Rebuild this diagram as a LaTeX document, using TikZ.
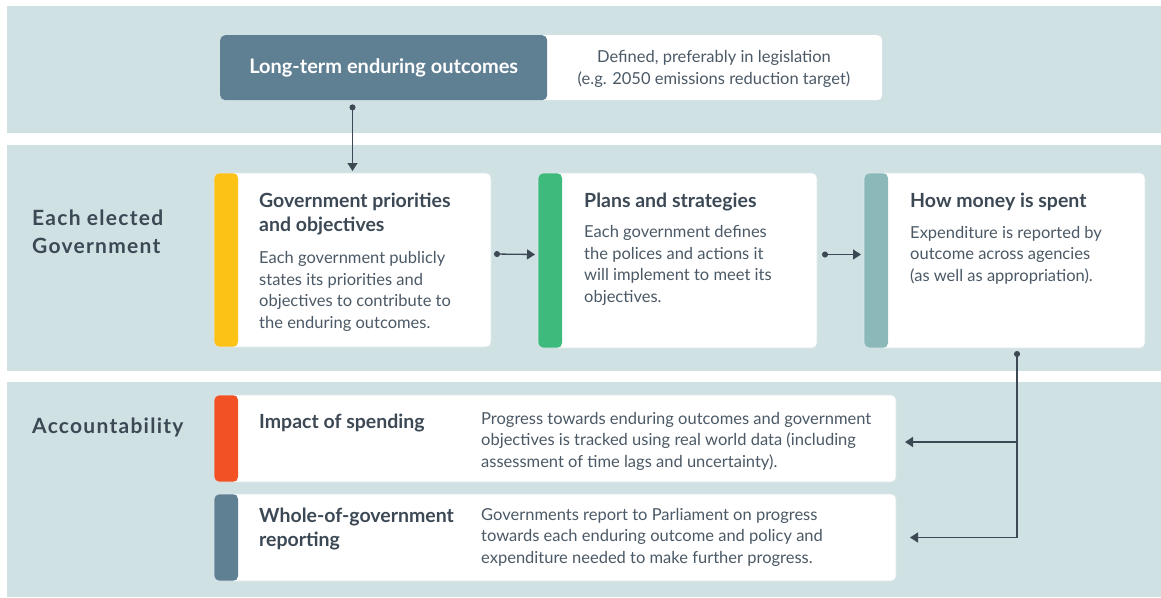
\documentclass[tikz,border=0pt]{standalone}
\usepackage{fontspec}
\setmainfont{Lato}
\usetikzlibrary{arrows.meta,positioning}

\definecolor{band}{HTML}{D0E1E4}
\definecolor{slate}{HTML}{5F7F93}
\definecolor{ink}{HTML}{3C4955}
\definecolor{inksoft}{HTML}{4B5966}
\definecolor{cardline}{HTML}{DCE7E9}
\definecolor{barYellow}{HTML}{FCC316}
\definecolor{barGreen}{HTML}{3DBA7C}
\definecolor{barTeal}{HTML}{8BB8B9}
\definecolor{barOrange}{HTML}{F15123}

\begin{document}
\begin{tikzpicture}[
  x=1pt,y=-1pt,
  card/.style={draw=cardline,line width=.6pt,fill=white,rounded corners=5pt,
    anchor=north west,outer sep=0pt,inner sep=0pt,
    path picture={\fill[#1] (path picture bounding box.north west)
      rectangle ([xshift=24pt]path picture bounding box.south west);}},
  % multi-line texts sit on the baseline of their last line
  head/.style={anchor=base west,inner sep=0pt,align=left,text=ink,
    font=\bfseries\fontsize{19.5}{24}\selectfont},
  body/.style={anchor=base west,inner sep=0pt,align=left,text=inksoft,
    font=\fontsize{16.5}{21.5}\selectfont},
  side/.style={anchor=base west,inner sep=0pt,align=left,text=ink,
    font=\bfseries\fontsize{21}{28}\selectfont\addfontfeature{LetterSpace=6}},
  flow/.style={draw=ink,line width=1.3pt,
    {Circle[length=6pt]}-{Triangle[length=8pt,width=10pt]}},
  feed/.style={draw=ink,line width=1.3pt,-{Triangle[length=8pt,width=10pt]}}
]
  \useasboundingbox[fill=white] (0,0) rectangle (1161,597);

  % three horizontal bands
  \fill[band] (7,6) rectangle (1161,133);
  \fill[band] (7,145) rectangle (1161,371);
  \fill[band] (7,382) rectangle (1161,597);

  % outcomes banner
  \node[fill=white,rounded corners=5pt,anchor=north west,inner sep=0pt,
    minimum width=352pt,minimum height=65pt] (note) at (530,35) {};
  \node[fill=slate,rounded corners=5pt,anchor=north west,inner sep=0pt,
    minimum width=327pt,minimum height=65pt] (outcome) at (220,35) {};
  \node[text=white,font=\bfseries\fontsize{20}{22}\selectfont] (outtext)
    at (outcome.center) {Long-term enduring outcomes};
  \node[text=inksoft,align=center,font=\fontsize{16.5}{22}\selectfont] (notetext)
    at (714,69) {Defined, preferably in legislation\\(e.g. 2050 emissions reduction target)};

  % side labels
  \node[side] (elected) at (32,253) {Each elected\\Government};
  \node[side] (account) at (32,433) {Accountability};

  % government cards
  \node[card=barYellow,minimum width=277pt,minimum height=174pt] (gov) at (214,173) {};
  \node[card=barGreen,minimum width=279pt,minimum height=175pt] (plans) at (538,173) {};
  \node[card=barTeal,minimum width=281pt,minimum height=175pt] (money) at (864,173) {};

  \node[head] (govhead) at (259,231) {Government priorities\\and objectives};
  \node[body] (govbody) at (259,328) {Each government publicly\\states its priorities and\\objectives to contribute to\\the enduring outcomes.};
  \node[head] (planshead) at (584,207) {Plans and strategies};
  \node[body] (plansbody) at (584,302) {Each government defines\\the polices and actions it\\will implement to meet its\\objectives.};
  \node[head] (moneyhead) at (910,207) {How money is spent};
  \node[body] (moneybody) at (910,281) {Expenditure is reported by\\outcome across agencies\\(as well as appropriation).};

  % accountability cards
  \node[card=barOrange,minimum width=682pt,minimum height=87pt] (impact) at (214,395) {};
  \node[card=slate,minimum width=682pt,minimum height=87pt] (wog) at (214,494) {};

  \node[head] (impacthead) at (259,428) {Impact of spending};
  \node[body] (impactbody) at (481,467) {Progress towards enduring outcomes and government\\objectives is tracked using real world data (including\\assessment of time lags and uncertainty).};
  \node[head] (woghead) at (259,546) {Whole-of-government\\reporting};
  \node[body] (wogbody) at (481,563) {Governments report to Parliament on progress\\towards each enduring outcome and policy and\\expenditure needed to make further progress.};

  % connectors
  \coordinate (tap) at (1017,351);
  \draw[flow] ([yshift=-4pt]outcome.south -| gov.north) -- ([yshift=2pt]gov.north);
  \draw[flow] ([xshift=3pt,yshift=6pt]gov.east) -- ([xshift=-3pt,yshift=6pt]plans.west);
  \draw[flow] ([xshift=5pt,yshift=6pt]plans.east) -- ([xshift=-3pt,yshift=6pt]money.west);
  \draw[flow] (tap) |- ([xshift=14pt]wog.east);
  \draw[feed] (tap |- 0,442) -- ([xshift=9pt]impact.east |- 0,442);
\end{tikzpicture}
\end{document}
